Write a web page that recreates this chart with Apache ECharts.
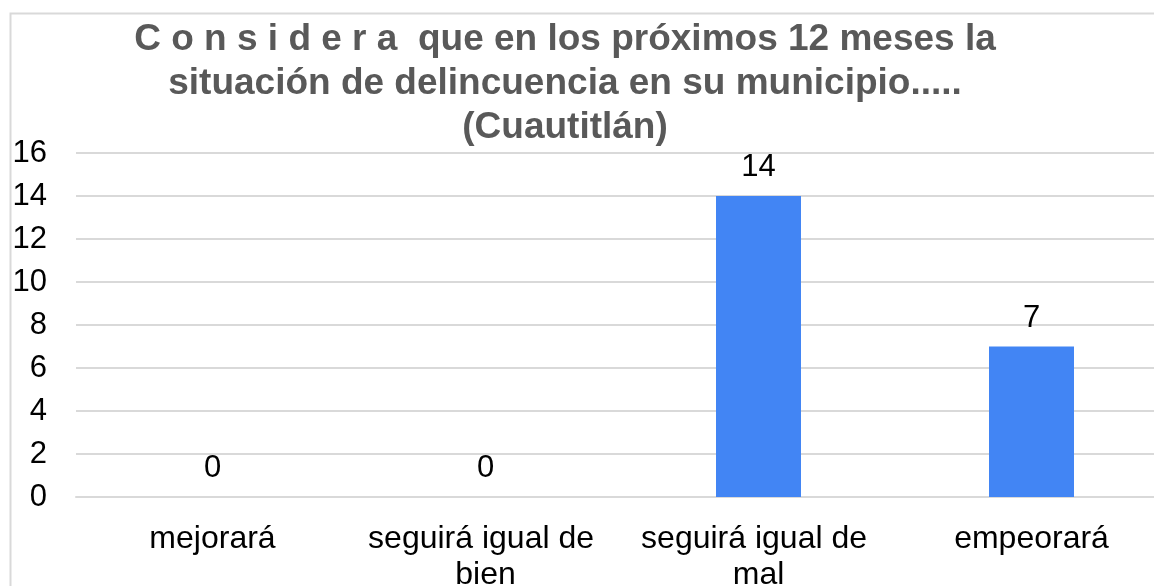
<!DOCTYPE html>
<html>
<head>
<meta charset="utf-8">
<style>
  html, body { margin: 0; padding: 0; background: #ffffff; overflow: hidden; }
  body { width: 1154px; height: 586px; }
  /* the plot runs slightly past the right edge of the page */
  #chart { width: 1168px; height: 586px; }
</style>
<script src="https://cdn.jsdelivr.net/npm/echarts@6/dist/echarts.min.js"></script>
</head>
<body>
<div id="chart"></div>
<script>
// Survey answers for Cuautitlán
const categories = ['mejorará', 'seguirá igual de bien', 'seguirá igual de mal', 'empeorará'];
const counts = [0, 0, 14, 7];
const yTicks = [0, 2, 4, 6, 8, 10, 12, 14, 16];

const titleText = 'C o n s i d e r a  que en los próximos 12 meses la\nsituación de delincuencia en su municipio.....\n(Cuautitlán)';
const font = '"Liberation Sans", Arial, sans-serif';

const chart = echarts.init(document.getElementById('chart'), null, { renderer: 'canvas' });

chart.setOption({
  animation: false,
  backgroundColor: '#ffffff',
  graphic: [{
    type: 'rect',
    left: 8, top: 11,
    shape: { width: 1200, height: 620 },
    style: { fill: 'none', stroke: '#d9d9d9', lineWidth: 2 },
    silent: true
  }],
  title: {
    text: titleText,
    left: 565,
    top: 18,
    padding: 0,
    textAlign: 'center',
    textStyle: {
      fontFamily: font,
      fontWeight: 'bold',
      fontSize: 37,
      lineHeight: 44,
      color: '#595959'
    }
  },
  grid: {
    left: 76,
    right: 0,
    top: 153,
    bottom: 89,
    containLabel: false,
    outerBoundsMode: 'none'
  },
  xAxis: {
    type: 'category',
    data: categories,
    axisLine: { show: true, lineStyle: { color: '#d9d9d9', width: 2 } },
    axisTick: { show: false },
    axisLabel: {
      interval: 0,
      margin: 24,
      width: 250,
      overflow: 'break',
      fontFamily: font,
      fontSize: 32,
      lineHeight: 36,
      color: '#000000'
    }
  },
  yAxis: {
    type: 'value',
    min: yTicks[0],
    max: yTicks[yTicks.length - 1],
    interval: yTicks[1] - yTicks[0],
    axisLine: { show: false },
    axisTick: { show: false },
    splitLine: { lineStyle: { color: '#d9d9d9', width: 2 } },
    axisLabel: {
      margin: 29,
      fontFamily: font,
      fontSize: 31,
      color: '#000000'
    }
  },
  series: [{
    type: 'bar',
    data: counts,
    barWidth: 85,
    itemStyle: { color: '#4285f4' },
    label: {
      show: true,
      position: 'top',
      distance: 13,
      fontFamily: font,
      fontSize: 31,
      color: '#000000'
    }
  }]
});
</script>
</body>
</html>
